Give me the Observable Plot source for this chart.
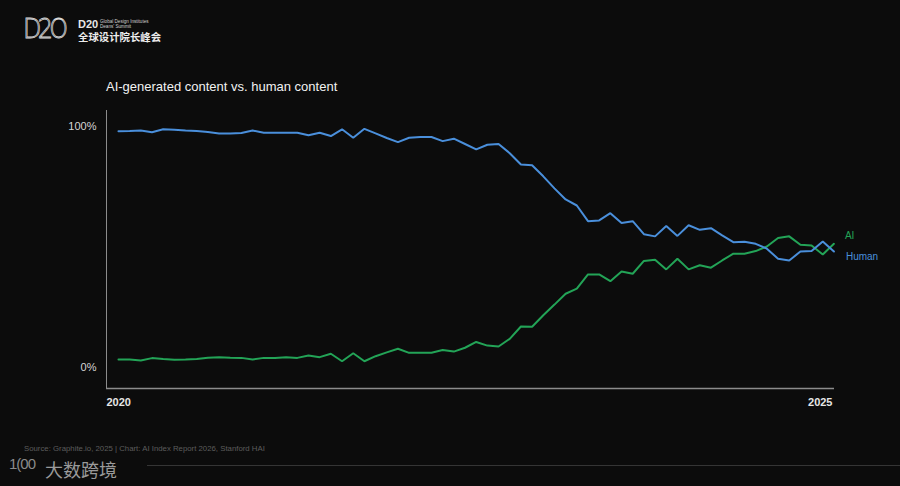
<!DOCTYPE html>
<html>
<head>
<meta charset="utf-8">
<script src="https://cdn.jsdelivr.net/npm/d3@7"></script>
<script src="https://cdn.jsdelivr.net/npm/@observablehq/plot@0.6"></script>
<style>
  html, body { margin: 0; padding: 0; background: #0c0c0c; }
  #page { position: relative; width: 900px; height: 486px; background: #0c0c0c; overflow: hidden; font-family: "Liberation Sans", Arial, sans-serif; }
  #chart { position: absolute; left: 0; top: 0; }
  .abs { position: absolute; white-space: nowrap; }
  #title { left: 106px; top: 79px; font-size: 13px; color: #f2f2f2; }
  #logo { left: 23px; top: 14px; font-size: 26px; font-weight: 300; color: transparent; -webkit-text-stroke: 0.8px #d8d8d8; letter-spacing: -4px; font-family: "DejaVu Sans", sans-serif; line-height: 30px; transform: scaleX(0.92); transform-origin: left top; }
  #d20 { left: 78px; top: 18px; font-size: 11px; font-weight: bold; color: #e8e8e8; }
  #gdi { left: 100px; top: 19px; font-size: 4.6px; line-height: 5px; color: #cfcfcf; }
  #cn { left: 78px; top: 29px; font-size: 10.4px; font-weight: bold; color: #ececec; font-family: "Noto Sans CJK SC", sans-serif; }
  #source { left: 24px; top: 444px; font-size: 7.8px; color: #5c5c5c; }
  #wm100 { left: 9px; top: 455px; font-size: 15px; color: #8a8a8a; letter-spacing: -1px; }
  #wmcn { left: 45px; top: 456px; font-size: 18px; color: #9a9a9a; font-family: "Noto Sans CJK SC", sans-serif; }
  #wmline { position: absolute; left: 147px; top: 465px; width: 753px; height: 1px; background: #353535; }
</style>
</head>
<body>
<div id="page">
  <div id="chart"></div>
  <div class="abs" id="logo">D2O</div>
  <div class="abs" id="d20">D20</div>
  <div class="abs" id="gdi">Global Design Institutes<br>Deans' Summit</div>
  <div class="abs" id="cn">全球设计院长峰会</div>
  <div class="abs" id="title">AI-generated content vs. human content</div>
  <div class="abs" id="source">Source: Graphite.io, 2025 | Chart: AI Index Report 2026, Stanford HAI</div>
  <div id="wmline"></div>
  <div class="abs" id="wm100">1(00</div>
  <div class="abs" id="wmcn">大数跨境</div>
</div>
<script>
// Monthly share of newly published articles, Jan 2020 .. May 2025 (index 0..64)
const aiShare = [
  3.3, 3.3, 2.9, 3.9, 3.5, 3.2, 3.3, 3.5, 4.1, 4.3,
  4.1, 4.0, 3.3, 4.0, 4.0, 4.3, 4.0, 5.0, 4.3, 5.7,
  2.6, 5.9, 2.6, 4.7, 6.3, 7.8, 6.1, 6.1, 6.1, 7.3,
  6.6, 8.2, 10.6, 9.1, 8.7, 11.9, 17.0, 16.9, 21.7, 26.1,
  30.6, 32.7, 38.6, 38.6, 35.8, 39.8, 38.9, 44.2, 44.7, 40.7,
  45.1, 40.7, 42.4, 41.4, 44.4, 47.2, 47.2, 48.3, 50.2, 53.7,
  54.4, 50.9, 50.6, 46.9, 51.3
];
const humanShare = [
  98.0, 98.1, 98.3, 97.6, 98.8, 98.6, 98.3, 98.1, 97.7, 97.1,
  97.1, 97.3, 98.3, 97.4, 97.4, 97.4, 97.4, 96.3, 97.4, 96.0,
  98.8, 95.3, 99.0, 97.1, 95.2, 93.5, 95.3, 95.6, 95.6, 93.9,
  94.9, 92.7, 90.5, 92.4, 92.7, 88.9, 84.2, 83.9, 79.3, 74.3,
  69.7, 67.2, 60.7, 61.0, 64.0, 59.9, 60.7, 55.3, 54.4, 58.7,
  54.6, 59.0, 57.1, 57.8, 54.8, 52.0, 52.2, 51.3, 49.3, 45.1,
  44.4, 48.1, 48.3, 52.3, 48.1
];
const seriesNames = ["AI", "Human"];
const seriesColors = ["#23a457", "#4a8fdb"];
const yTicks = [0, 100];
const xTickLabels = ["2020", "2025"];

const rows = [];
aiShare.forEach((v, i) => rows.push({ i, v, s: seriesNames[0] }));
humanShare.forEach((v, i) => rows.push({ i, v, s: seriesNames[1] }));
const lastIdx = aiShare.length - 1;
const lastRows = rows.filter(d => d.i === lastIdx);

const xMin = -1.07, xMax = lastIdx + 0.05;
const yMin = -8.7, yMax = 106.6;

const chart = Plot.plot({
  width: 900,
  height: 486,
  marginLeft: 106,
  marginRight: 66,
  marginTop: 110,
  marginBottom: 98,
  style: { background: "transparent", fontFamily: "Liberation Sans, Arial, sans-serif" },
  x: { domain: [xMin, xMax], axis: null, label: null },
  y: { domain: [yMin, yMax], axis: null, label: null },
  color: { domain: seriesNames, range: seriesColors },
  marks: [
    Plot.ruleX([xMin], { stroke: "#8c8c8c", strokeWidth: 1 }),
    Plot.ruleY([yMin], { stroke: "#8c8c8c", strokeWidth: 1.5 }),
    Plot.axisY(yTicks, { label: null, tickSize: 0, tickPadding: 10, tickFormat: d => d + "%", fontSize: 11, color: "#d6d6d6" }),
    Plot.axisX([xMin], { label: null, tickSize: 0, tickPadding: 10, textAnchor: "start", tickFormat: () => xTickLabels[0], fontSize: 11, fontWeight: "bold", color: "#e6e6e6" }),
    Plot.axisX([xMax], { label: null, tickSize: 0, tickPadding: 10, textAnchor: "end", dx: -2, tickFormat: () => xTickLabels[1], fontSize: 11, fontWeight: "bold", color: "#e6e6e6" }),
    Plot.line(rows, { x: "i", y: "v", z: "s", stroke: "s", strokeWidth: 2, strokeLinejoin: "miter" }),
    Plot.text(lastRows.filter(d => d.s === "AI"), { x: "i", y: "v", text: "s", fill: "s", dx: 11, dy: -8, textAnchor: "start", fontSize: 10 }),
    Plot.text(lastRows.filter(d => d.s === "Human"), { x: "i", y: "v", text: "s", fill: "s", dx: 12, dy: 5, textAnchor: "start", fontSize: 10 })
  ]
});
document.getElementById("chart").appendChild(chart);
</script>
</body>
</html>
